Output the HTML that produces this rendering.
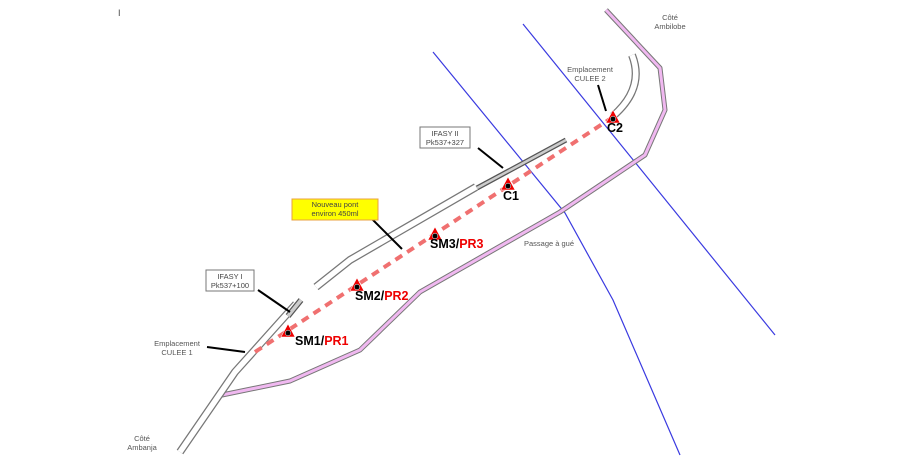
<!DOCTYPE html>
<html><head><meta charset="utf-8"><style>
html,body{margin:0;padding:0;background:#fff;}
svg{display:block;font-family:"Liberation Sans",sans-serif;}
</style></head><body>
<svg width="924" height="456" viewBox="0 0 924 456" xmlns="http://www.w3.org/2000/svg">
<rect width="924" height="456" fill="#fff"/>
<text x="118" y="16" font-size="9" fill="#444">I</text>
<polyline points="433,52 565,213 613,300 680,455" fill="none" stroke="#3a3ae0" stroke-width="1.2"/>
<polyline points="523,24 775,335" fill="none" stroke="#3a3ae0" stroke-width="1.2"/>
<polyline points="222,395 290,381 360,350 420,292 560,212 645,155 665,110 660,68 606,10" fill="none" stroke="#777" stroke-width="5" stroke-linejoin="round"/>
<polyline points="222,395 290,381 360,350 420,292 560,212 645,155 665,110 660,68 606,10" fill="none" stroke="#f0b8f0" stroke-width="3" stroke-linejoin="round"/>
<g fill="none" stroke="#777" stroke-width="8" stroke-linejoin="round">
<polyline points="180,452 235,372 296,304"/>
<polyline points="316,287 350,260 476,187"/>
<path d="M613,116 Q645,88 632,55"/>
</g>
<g fill="none" stroke="#fff" stroke-width="5.5" stroke-linejoin="round">
<polyline points="180,452 235,372 296,304"/>
<polyline points="316,287 350,260 476,187"/>
<path d="M613,116 Q645,88 632,55"/>
</g>
<line x1="288" y1="316" x2="301" y2="300" stroke="#555" stroke-width="6"/>
<line x1="288" y1="316" x2="301" y2="300" stroke="#ccc" stroke-width="3.5"/>
<line x1="477" y1="188" x2="566" y2="140" stroke="#555" stroke-width="5"/>
<line x1="477" y1="188" x2="566" y2="140" stroke="#ccc" stroke-width="2.5"/>
<line x1="255" y1="352" x2="613" y2="117" stroke="#f07070" stroke-width="4" stroke-dasharray="8,6"/>
<g fill="#e00" stroke="#fff" stroke-width="0.5">
<polygon points="288,324 281,337 295,337"/><circle cx="288" cy="333" r="2.8" fill="#000"/>
<polygon points="357,278 350,291 364,291"/><circle cx="357" cy="287" r="2.8" fill="#000"/>
<polygon points="435,227 428,240 442,240"/><circle cx="435" cy="236" r="2.8" fill="#000"/>
<polygon points="508,177 501,190 515,190"/><circle cx="508" cy="186" r="2.8" fill="#000"/>
<polygon points="613,110 606,123 620,123"/><circle cx="613" cy="119" r="2.8" fill="#000"/>
</g>
<g font-size="12.5" font-weight="bold">
<text x="295" y="345" fill="#000">SM1/<tspan fill="#e00">PR1</tspan></text>
<text x="355" y="300" fill="#000">SM2/<tspan fill="#e00">PR2</tspan></text>
<text x="430" y="248" fill="#000">SM3/<tspan fill="#e00">PR3</tspan></text>
<text x="503" y="200" fill="#000">C1</text>
<text x="607" y="132" fill="#000">C2</text>
</g>
<g stroke="#000" stroke-width="2">
<line x1="258" y1="290" x2="290" y2="312"/>
<line x1="478" y1="148" x2="503" y2="168"/>
<line x1="372" y1="219" x2="402" y2="249"/>
<line x1="207" y1="347" x2="245" y2="352"/>
<line x1="598" y1="85" x2="606" y2="111"/>
</g>
<rect x="206" y="270" width="48" height="21" fill="#fff" stroke="#777"/>
<text x="230" y="279" font-size="7.5" text-anchor="middle" fill="#444">IFASY I</text>
<text x="230" y="288" font-size="7.5" text-anchor="middle" fill="#444">Pk537+100</text>
<rect x="420" y="127" width="50" height="21" fill="#fff" stroke="#777"/>
<text x="445" y="136" font-size="7.5" text-anchor="middle" fill="#444">IFASY II</text>
<text x="445" y="145" font-size="7.5" text-anchor="middle" fill="#444">Pk537+327</text>
<rect x="292" y="199" width="86" height="21" fill="#ffff00" stroke="#e8a040"/>
<text x="335" y="207" font-size="7.5" text-anchor="middle" fill="#444">Nouveau pont</text>
<text x="335" y="216" font-size="7.5" text-anchor="middle" fill="#444">environ 450ml</text>
<g font-size="7.5" fill="#555" text-anchor="middle">
<text x="177" y="346">Emplacement</text><text x="177" y="355">CULEE 1</text>
<text x="590" y="72">Emplacement</text><text x="590" y="81">CULEE 2</text>
<text x="670" y="20">Côté</text><text x="670" y="29">Ambilobe</text>
<text x="142" y="441">Côté</text><text x="142" y="450">Ambanja</text>
<text x="549" y="246">Passage à gué</text>
</g>
</svg>
</body></html>
